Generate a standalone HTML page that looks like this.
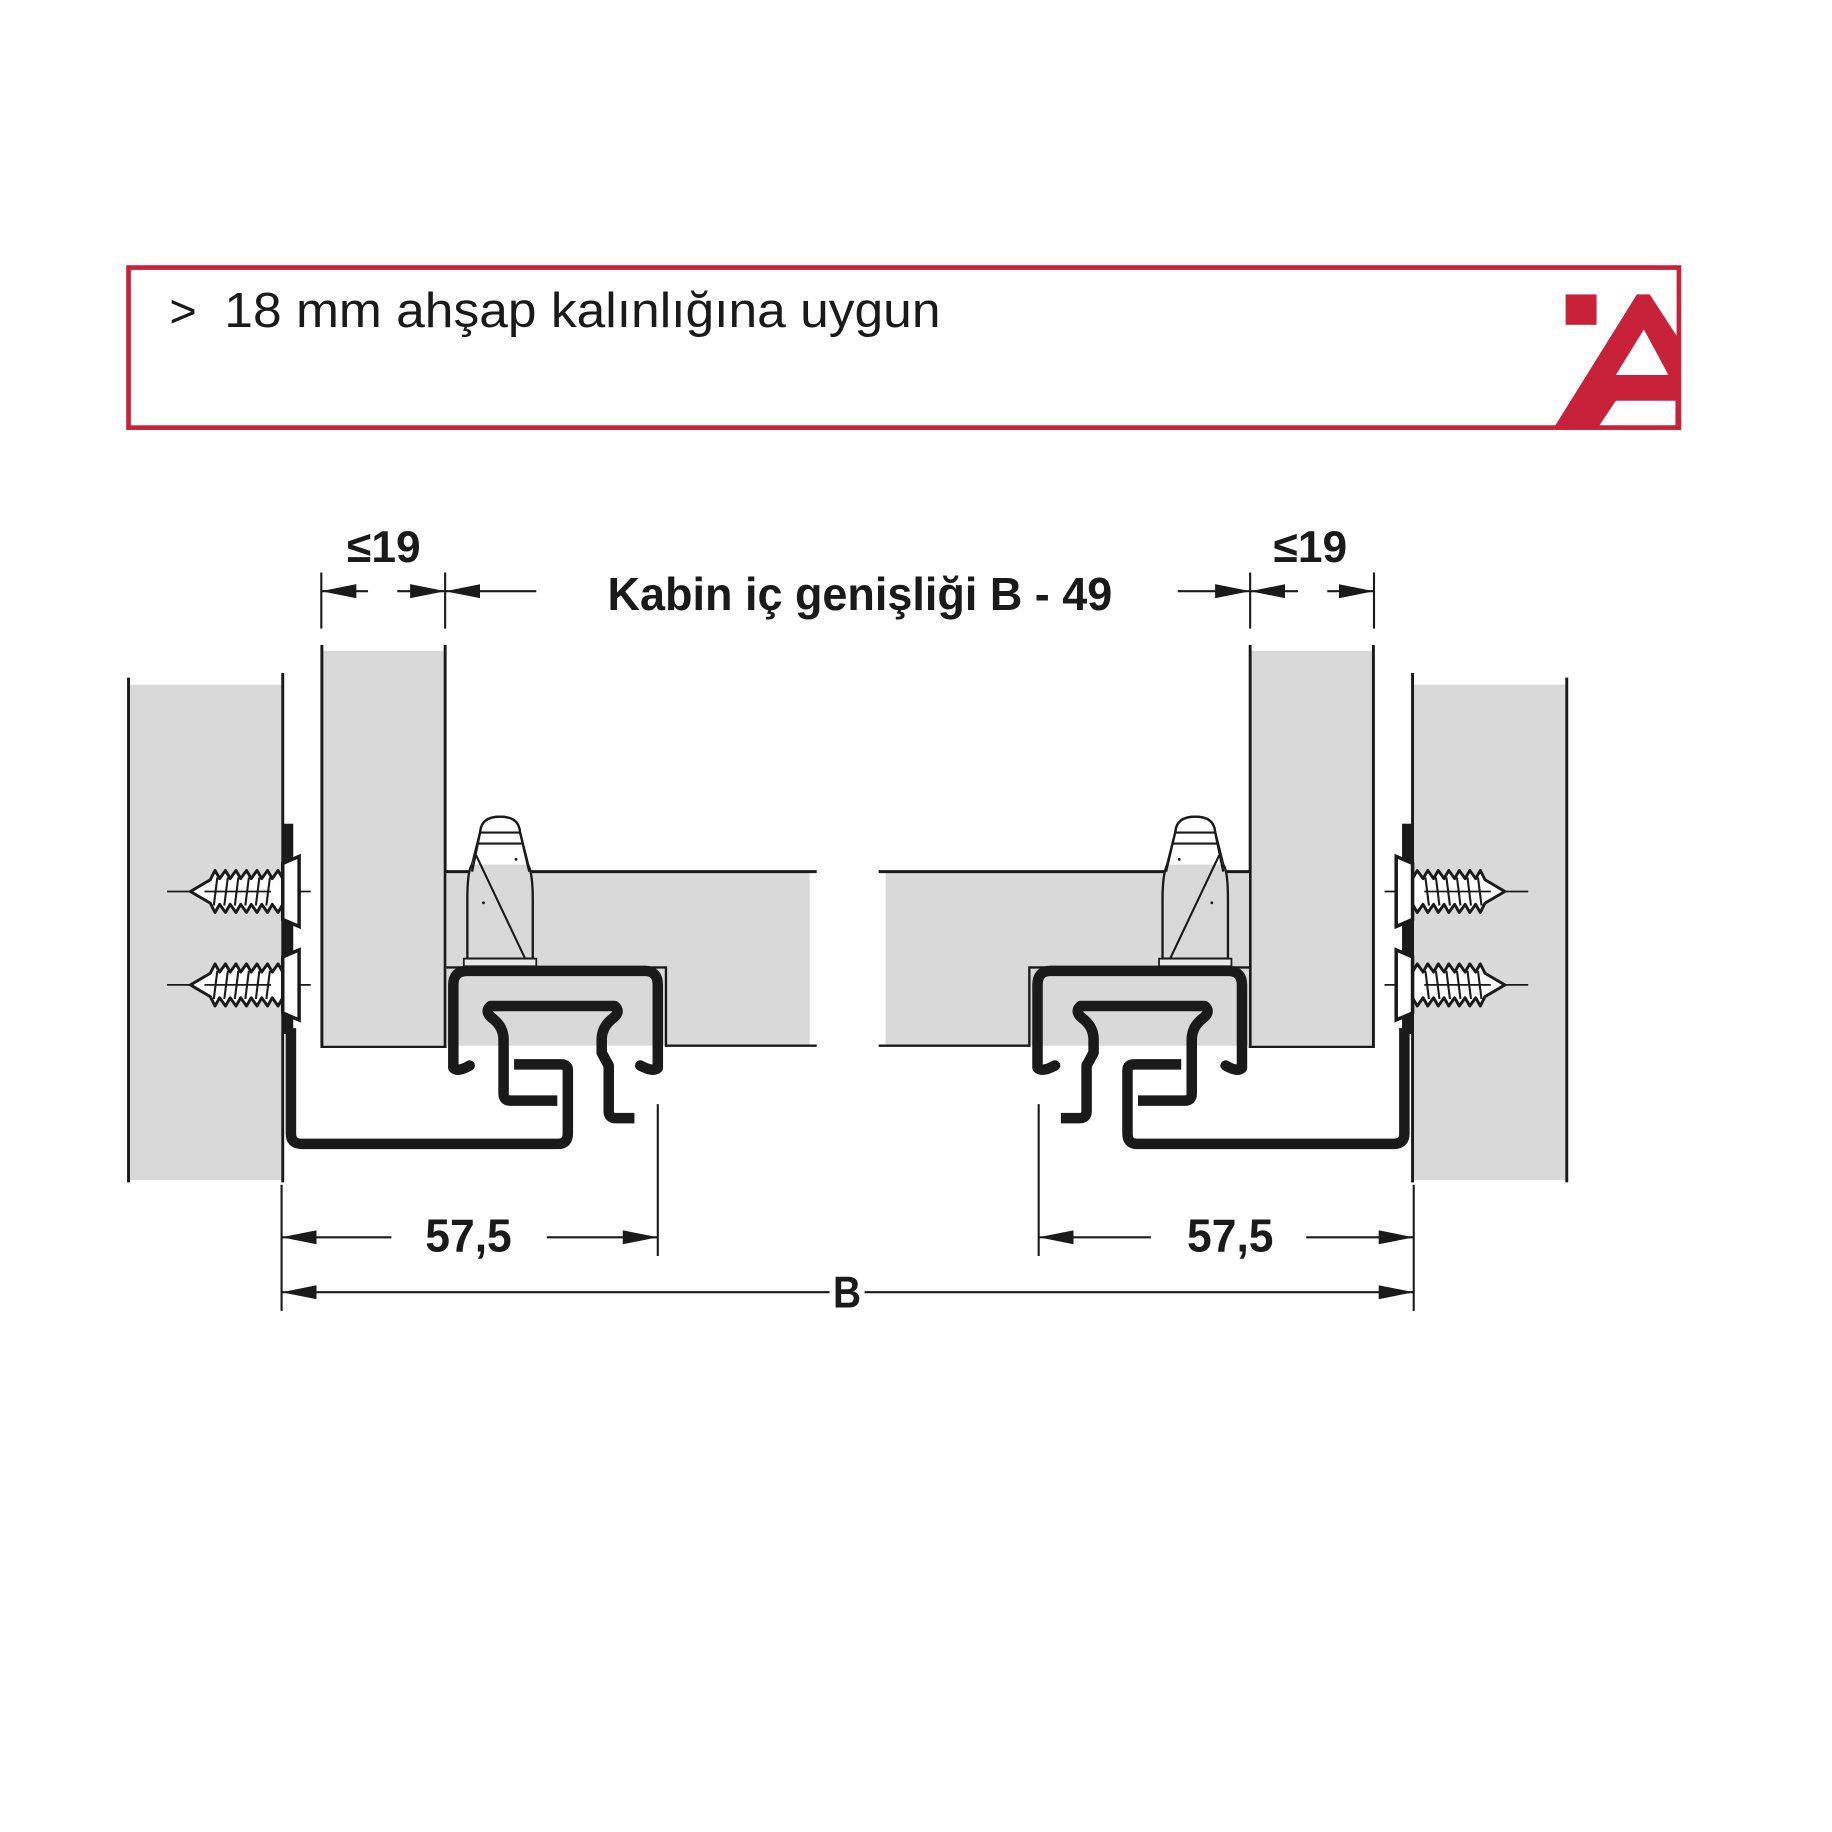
<!DOCTYPE html>
<html><head><meta charset="utf-8"><style>
html,body{margin:0;padding:0;background:#fff;}
svg{display:block;}
text{font-family:"Liberation Sans",sans-serif;fill:#1a1a1a;}
</style></head><body>
<svg width="1832" height="1832" viewBox="0 0 1568 1568" xmlns="http://www.w3.org/2000/svg">
<defs>
  <marker id="ah" viewBox="0 0 30 12" refX="30" refY="6" markerWidth="30" markerHeight="12" markerUnits="userSpaceOnUse" orient="auto">
    <path d="M0,0 L30,6 L0,12 Z" fill="#1a1a1a"/>
  </marker>
  <g id="screw">
    <line x1="143" y1="0" x2="266" y2="0" stroke="#1a1a1a" stroke-width="1.5"/>
    <polygon points="163,0 180,-10 184,-18 188,-11 193,-18 197,-11 202,-18 206,-11 211,-18 215,-11 220,-18 224,-11 229,-18 233,-11 238,-18 242,-11 242,11 238,18 233,11 229,18 224,11 220,18 215,11 211,18 206,11 202,18 197,11 193,18 188,11 184,18 180,10" fill="#fff" stroke="#1a1a1a" stroke-width="2.5" stroke-linejoin="round"/>
    <g stroke="#1a1a1a" stroke-width="1.8">
      <line x1="186" y1="-12" x2="183" y2="12"/><line x1="195" y1="-12" x2="192" y2="12"/>
      <line x1="204" y1="-12" x2="201" y2="12"/><line x1="213" y1="-12" x2="210" y2="12"/>
      <line x1="222" y1="-12" x2="219" y2="12"/><line x1="231" y1="-12" x2="228" y2="12"/>
    </g>
    <line x1="175" y1="0" x2="232" y2="0" stroke="#1a1a1a" stroke-width="1.5"/>
    <polygon points="242,-24 256,-30 256,30 242,24" fill="#fff" stroke="#1a1a1a" stroke-width="3"/>
  </g>
  <g id="side">
    <!-- cabinet wall -->
    <rect x="110" y="586" width="131" height="424" fill="#d9d9d9"/>
    <line x1="110" y1="580" x2="110" y2="1012" stroke="#1a1a1a" stroke-width="2.5"/>
    <line x1="242" y1="576" x2="242" y2="1012" stroke="#1a1a1a" stroke-width="2.5"/>
    <!-- drawer side -->
    <rect x="276" y="557" width="105" height="340" fill="#d9d9d9"/>
    <line x1="275.5" y1="552" x2="275.5" y2="897" stroke="#1a1a1a" stroke-width="2.5"/>
    <line x1="381" y1="552" x2="381" y2="897" stroke="#1a1a1a" stroke-width="2.5"/>
    <line x1="275" y1="896" x2="382" y2="896" stroke="#1a1a1a" stroke-width="2"/>
    <!-- drawer bottom -->
    <rect x="382" y="746" width="311" height="149" fill="#d9d9d9"/>
    <line x1="381" y1="746" x2="699" y2="746" stroke="#1a1a1a" stroke-width="2.5"/>
    <line x1="570" y1="895" x2="699" y2="895" stroke="#1a1a1a" stroke-width="2"/>
    <polyline points="382,828 570,828 570,896" fill="none" stroke="#1a1a1a" stroke-width="2"/>
    <!-- peg -->
    <path d="M400,820.5 L400,770 Q400,745 404,740 L411,712 Q412,699 428,699 Q444,699 445,712 L452,740 Q456,748 456,770 L456,820.5 Z" fill="#d9d9d9" stroke="#1a1a1a" stroke-width="2"/>
    <path d="M411,712 Q412,699 428,699 Q444,699 445,712 L452,740 L404,740 Z" fill="#fff" stroke="none"/>
    <path d="M404,746 L411,712 Q412,699 428,699 Q444,699 445,712 L453,746" fill="none" stroke="#1a1a1a" stroke-width="2"/>
    <line x1="410" y1="712.6" x2="446" y2="712.6" stroke="#1a1a1a" stroke-width="1.8"/>
    <line x1="408" y1="722" x2="448" y2="722" stroke="#1a1a1a" stroke-width="1.8"/>
    <line x1="407.5" y1="732" x2="449.5" y2="820.5" stroke="#1a1a1a" stroke-width="1.8"/>
    <circle cx="441.7" cy="735.5" r="1.2" fill="#1a1a1a"/><circle cx="413.8" cy="772.7" r="1.2" fill="#1a1a1a"/>
    <rect x="397" y="820.5" width="62" height="6.5" fill="#e8e8e8" stroke="#1a1a1a" stroke-width="1.5"/>
    <!-- screws and bracket plate -->
    <rect x="243" y="705" width="8" height="180" fill="#1a1a1a"/>
    <use href="#screw" transform="translate(0,763)"/>
    <use href="#screw" transform="translate(0,843)"/>
    <!-- cabinet L bracket -->
    <path d="M249,880 V970 Q249,979 258,979 H478 Q486,979 486,970 V916 Q486,911 480,911 H440" fill="none" stroke="#1a1a1a" stroke-width="9" stroke-linejoin="round"/>
    <!-- drawer U channel -->
    <path d="M402,912 Q392,918 388,914 V843 Q388,831 400,831 H552 Q563,831 563,843 V914 Q559,918 548,912" fill="none" stroke="#1a1a1a" stroke-width="9" stroke-linejoin="round" stroke-linecap="round"/>
    <!-- inner runner -->
    <path d="M477,942 H437 Q431,942 431,936 V890 Q431,879 422,872 Q414,866 420,861 H526 Q532,866 524,872 Q515,879 515,890 V901 L521,912 V951 Q521,957 527,957 H543" fill="none" stroke="#1a1a1a" stroke-width="9" stroke-linejoin="round"/>
  </g>
</defs>

<!-- header box -->
<rect x="110" y="229" width="1327" height="137" fill="none" stroke="#c8213a" stroke-width="4"/>
<text x="145" y="280" font-size="40">&gt;</text>
<text x="192" y="280" font-size="42" textLength="613" lengthAdjust="spacingAndGlyphs">18 mm ahşap kalınlığına uygun</text>
<!-- logo -->
<rect x="1340" y="252" width="26.5" height="26" fill="#c8213a"/>
<polygon points="1330,366 1401,252 1412,252 1438,292 1438,366" fill="#c8213a"/>
<polygon points="1407,282 1383,321 1428,321" fill="#fff"/>
<polygon points="1383,343 1434,343 1434,364 1369,364" fill="#fff"/>

<!-- drawing -->
<use href="#side"/>
<use href="#side" transform="translate(1451,0) scale(-1,1)"/>

<g stroke="#1a1a1a" stroke-width="1.8" fill="none">
  <!-- top dims -->
  <line x1="275" y1="490" x2="275" y2="538"/><line x1="381" y1="490" x2="381" y2="538"/>
  <line x1="1070" y1="490" x2="1070" y2="538"/><line x1="1176" y1="490" x2="1176" y2="538"/>
  <line x1="315" y1="506" x2="275" y2="506" marker-end="url(#ah)"/>
  <line x1="340" y1="506" x2="381" y2="506" marker-end="url(#ah)"/>
  <line x1="459" y1="506" x2="381" y2="506" marker-end="url(#ah)"/>
  <line x1="1008" y1="506" x2="1070" y2="506" marker-end="url(#ah)"/>
  <line x1="1111" y1="506" x2="1070" y2="506" marker-end="url(#ah)"/>
  <line x1="1136" y1="506" x2="1176" y2="506" marker-end="url(#ah)"/>
  <!-- bottom dims -->
  <line x1="241" y1="1014" x2="241" y2="1122"/><line x1="563" y1="945" x2="563" y2="1075"/>
  <line x1="889" y1="945" x2="889" y2="1075"/><line x1="1210" y1="1014" x2="1210" y2="1122"/>
  <line x1="335" y1="1059" x2="241" y2="1059" marker-end="url(#ah)"/>
  <line x1="468" y1="1059" x2="563" y2="1059" marker-end="url(#ah)"/>
  <line x1="985" y1="1059" x2="889" y2="1059" marker-end="url(#ah)"/>
  <line x1="1118" y1="1059" x2="1210" y2="1059" marker-end="url(#ah)"/>
  <line x1="710" y1="1106" x2="241" y2="1106" marker-end="url(#ah)"/>
  <line x1="740" y1="1106" x2="1210" y2="1106" marker-end="url(#ah)"/>
</g>
<g font-weight="bold">
  <text x="297" y="481" font-size="38" textLength="63" lengthAdjust="spacingAndGlyphs">≤19</text>
  <text x="1090" y="481" font-size="38" textLength="63" lengthAdjust="spacingAndGlyphs">≤19</text>
  <text x="520" y="522" font-size="40" textLength="432" lengthAdjust="spacingAndGlyphs">Kabin iç genişliği B - 49</text>
  <text x="364" y="1071" font-size="40" textLength="74" lengthAdjust="spacingAndGlyphs">57,5</text>
  <text x="1016" y="1071" font-size="40" textLength="74" lengthAdjust="spacingAndGlyphs">57,5</text>
  <text x="713" y="1119" font-size="38" textLength="24" lengthAdjust="spacingAndGlyphs">B</text>
</g>
</svg>
</body></html>
